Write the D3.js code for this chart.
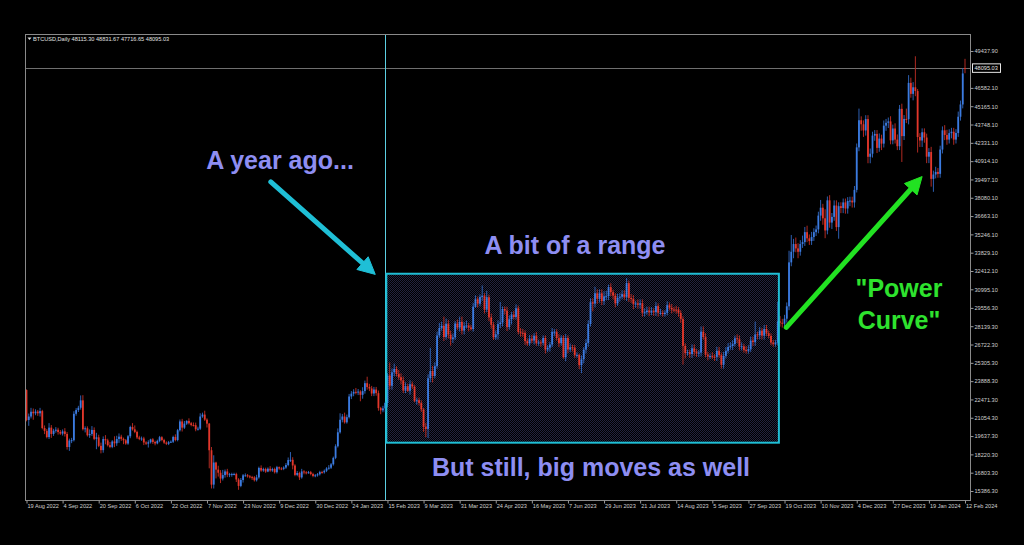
<!DOCTYPE html>
<html><head><meta charset="utf-8">
<script src="https://cdn.jsdelivr.net/npm/d3@7"></script>
<style>html,body{margin:0;padding:0;background:#000;overflow:hidden}svg{display:block}</style>
</head><body>
<svg id="c" width="1024" height="545"></svg>
<script>
// ---------- DATA ----------
const symbolName = "BTCUSD,Daily";
const firstOpen = 23200;
const lastOHLC = [48115.30, 48831.67, 47716.65, 48095.03];
const closes = [
20880,21150,21520,21400,21530,21400,21570,20260,20040,19560,20290,19800,20050,20130,19950,19830,
20000,19800,18790,19290,19320,21360,21650,21830,22400,20170,20240,19700,19800,20110,19420,19540,
18880,18550,19410,19300,18930,18800,19220,19080,19410,19590,19420,19310,19060,19620,20340,20160,
19960,19530,19420,19450,19140,19050,19160,19380,19180,19070,19260,19550,19330,19130,19040,19160,
19200,19570,19330,20090,20770,20290,20600,20810,20630,20490,20480,20160,20210,21150,21300,20910,
20600,18540,15880,17590,17040,16800,16350,16620,16900,16660,16690,16700,16700,16280,15780,16240,
16600,16600,16520,16460,16440,16220,16440,17170,16970,17090,16890,17110,16970,17090,16840,17230,
17130,17100,17200,17400,17780,17800,17360,16630,16780,16440,16900,16830,16820,16840,16700,16550,
16600,16680,16850,16830,16950,17130,17190,17450,17950,18850,19930,20900,21150,20700,21100,22700,
22920,23060,23010,23080,22830,23120,23730,23430,23320,22930,23240,22960,21800,21630,21780,22200,
24330,23530,24570,24840,24450,24190,23940,23170,23490,23140,23650,23470,22360,22410,22200,21700,
20360,20190,24110,24670,24290,25050,27420,28000,28180,27300,28330,27490,27140,27270,28350,28030,
28480,27800,28170,28180,28040,27920,29650,30230,29880,30400,30490,29430,30380,28820,28250,27270,
27510,28300,28420,29470,29340,28070,28680,29030,28850,29530,27700,27630,27620,26990,26800,27170,
27030,27400,26830,26890,26850,27230,26330,26480,26720,27700,27700,27220,26820,27250,25730,27230,
26340,26500,26480,25900,25920,25120,25580,26330,26840,28310,30000,29890,30690,30270,30690,30080,
30450,30470,31160,30770,30510,29900,30350,30420,30620,30390,31470,30330,30250,29860,29910,29800,
29910,29180,29230,29350,29210,29320,29230,29700,29180,29180,29080,29180,29770,29560,29430,29420,
29410,29170,28700,26620,26050,26120,25990,26430,26160,26050,26100,27720,27300,25940,25800,25830,
25790,25750,26240,25900,25160,25840,26230,26530,26610,26760,27210,27130,26570,26580,26300,26220,
26360,27030,26910,27500,27430,27790,27410,27930,27590,27390,26870,26760,26860,28520,28410,28330,
28720,29680,33080,33900,34500,34160,33900,34500,34650,35420,34940,34730,35040,35420,35630,36700,
37310,36490,35550,37880,36160,36600,37480,35810,37430,37290,37720,37250,37830,37860,37720,38690,
41980,44080,43770,43290,44170,41250,41490,42890,43020,41940,42660,42270,43660,43880,43990,42520,
43440,42580,42070,44960,42850,44180,44160,46970,46120,46630,46340,42780,42510,43150,42740,41260,
41620,39540,39880,40080,39930,41810,43300,42940,42580,43080,43190,42580,43090,44350,45300,47700,48095.03
];
const wickUp = [
50,230,300,250,180,130,250,100,200,150,350,200,150,200,150,150,
150,250,150,150,180,200,150,150,380,400,150,150,350,300,200,350,
200,250,200,300,130,250,100,400,250,250,150,100,100,100,100,300,
300,100,130,150,130,100,150,50,100,100,100,100,80,100,100,100,
100,100,200,100,150,200,200,50,200,100,200,200,150,250,150,300,
100,50,250,560,60,300,200,400,150,200,100,100,100,100,100,150,
100,150,100,100,100,100,200,100,200,100,100,100,200,100,100,100,
50,100,100,150,200,600,200,100,150,100,200,100,100,100,100,100,
100,100,100,100,100,100,200,100,100,150,300,500,200,300,200,200,
200,200,300,200,100,300,200,500,250,200,200,200,200,100,200,100,
200,1000,300,400,200,300,300,300,300,200,300,200,100,200,200,200,
100,300,300,1800,400,300,300,400,300,700,400,300,300,300,200,300,
400,400,300,400,200,200,300,300,200,200,800,200,500,200,300,200,
300,300,1600,200,200,300,300,200,300,300,200,300,300,200,200,300,
300,200,300,200,200,200,200,200,200,300,200,200,300,200,200,300,
200,300,200,200,200,100,300,200,300,300,300,300,500,300,300,300,
400,400,200,300,200,200,300,300,300,300,400,200,300,300,200,300,
300,300,300,300,300,300,200,300,200,300,200,200,300,200,300,200,
300,200,200,200,200,200,200,300,300,200,200,400,400,300,200,200,
300,200,300,300,200,300,300,300,300,300,200,300,300,300,200,300,
300,300,300,1000,200,300,200,300,300,200,200,200,200,1500,400,300,
300,300,900,1300,400,500,400,300,500,400,500,300,400,300,300,300,
600,300,700,300,400,300,400,400,300,300,300,300,300,300,300,300,
300,900,300,300,300,300,400,300,300,300,400,300,400,300,300,400,
300,400,400,300,400,300,800,600,400,400,2400,160,300,300,300,300,
300,400,300,400,300,300,300,400,400,300,300,300,300,400,300,400,700
];
const wickDown = [
100,450,150,500,150,200,250,100,250,100,150,300,150,150,200,100,
150,200,200,300,200,100,150,150,150,100,250,100,200,150,100,800,
100,250,200,300,100,100,100,300,200,300,150,300,100,100,150,100,
100,120,100,150,200,100,300,100,150,150,70,100,100,100,100,100,
50,100,100,100,100,300,100,100,100,100,100,150,100,100,100,100,
300,1400,300,300,680,300,350,150,200,200,200,200,100,200,300,100,
200,100,100,100,200,100,100,100,100,100,100,50,100,100,100,100,
100,100,100,100,100,150,300,100,100,200,100,150,150,100,100,100,
100,100,100,100,100,100,100,100,100,100,100,100,200,100,100,100,
200,200,150,200,500,300,200,200,200,200,200,200,200,300,150,300,
300,300,300,300,200,200,300,200,200,100,300,200,100,300,200,200,
400,640,700,300,500,200,200,200,200,300,200,300,500,300,200,200,
300,300,300,200,300,100,200,100,300,200,300,300,200,300,300,200,
200,400,300,300,300,300,200,400,200,200,200,300,300,300,200,200,
200,300,200,200,300,200,300,200,300,200,300,200,300,200,100,300,
300,200,300,200,200,300,600,300,300,300,200,600,300,400,300,300,
300,300,300,300,300,300,200,300,200,200,300,300,300,400,300,300,
300,300,300,200,300,200,300,300,300,200,200,200,200,200,300,200,
300,300,300,1450,400,200,300,300,300,300,300,300,200,200,300,200,
200,300,300,200,300,300,200,200,200,300,200,300,300,300,200,200,
200,200,300,300,300,300,300,300,200,200,200,200,200,200,300,300,
300,300,300,300,500,300,500,300,300,300,300,300,300,300,300,300,
400,500,600,300,400,500,300,300,900,400,400,400,400,400,400,400,
200,300,500,500,400,500,500,300,400,400,300,500,300,400,400,300,
300,300,300,300,2000,300,300,400,300,500,400,1200,500,500,400,500,
500,600,1000,300,300,300,300,400,400,300,400,400,300,300,300,300,400
];
const dateLabels = ["19 Aug 2022","4 Sep 2022","20 Sep 2022","6 Oct 2022","22 Oct 2022","7 Nov 2022","23 Nov 2022","9 Dec 2022","30 Dec 2022","24 Jan 2023","15 Feb 2023","9 Mar 2023","31 Mar 2023","24 Apr 2023","16 May 2023","7 Jun 2023","29 Jun 2023","21 Jul 2023","14 Aug 2023","5 Sep 2023","27 Sep 2023","19 Oct 2023","10 Nov 2023","4 Dec 2023","27 Dec 2023","19 Jan 2024","12 Feb 2024"];
const labelStep = 16;
const priceTicks = [49437.90,46582.10,45165.10,43748.10,42331.10,40914.10,39497.10,38080.10,36663.10,35246.10,33829.10,32412.10,30995.10,29556.30,28139.30,26722.30,25305.30,23888.30,22471.30,21054.30,19637.30,18220.30,16803.30,15386.30];
const markerIndex = 159;              // "a year ago" vertical line (bar index)
const rangeBox = [159.5, 333.5, 32200, 19125];   // bar index from/to, price top/bottom
const cyanArrow = [[108.3, 39300], [154.6, 32150]];
const greenArrow = [[336.8, 28050], [397.0, 39720]];

// ---------- SCALES ----------
const svg = d3.select("#c");
const P = {l:25, r:970, t:34, b:500};
const n = closes.length;
const x = d3.scaleLinear().domain([0, n-1]).range([26.5, 965]);
const y = d3.scaleLinear().domain([15386.3, 49437.9]).range([491, 51]);

svg.append("rect").attr("width",1024).attr("height",545).attr("fill","#000");

const defs = svg.append("defs");
defs.append("clipPath").attr("id","plotclip").append("rect")
  .attr("x",P.l+1).attr("y",P.t+1).attr("width",P.r-P.l-1).attr("height",P.b-P.t-1);
const pat = defs.append("pattern").attr("id","dots").attr("width",2).attr("height",2)
  .attr("patternUnits","userSpaceOnUse");
pat.append("rect").attr("x",0).attr("y",0).attr("width",1).attr("height",1).attr("fill","#23233f");
pat.append("rect").attr("x",1).attr("y",1).attr("width",1).attr("height",1).attr("fill","#23233f");

// ---------- FRAME ----------
const frame = svg.append("g").attr("stroke","#8a8a8a").attr("stroke-width",1).attr("shape-rendering","crispEdges");
frame.append("line").attr("x1",P.l+0.5).attr("x2",P.l+0.5).attr("y1",P.t).attr("y2",P.b+1);
frame.append("line").attr("x1",P.l).attr("x2",P.r).attr("y1",P.t+0.5).attr("y2",P.t+0.5);
frame.append("line").attr("x1",P.r+0.5).attr("x2",P.r+0.5).attr("y1",P.t).attr("y2",P.b+1);
frame.append("line").attr("x1",P.l).attr("x2",P.r+1).attr("y1",P.b+0.5).attr("y2",P.b+0.5);

// range box background (dotted fill) under candles
const bx0=x(rangeBox[0]), bx1=x(rangeBox[1]), by0=y(rangeBox[2]), by1=y(rangeBox[3]);
svg.append("rect").attr("x",Math.round(bx0)).attr("y",Math.round(by0))
  .attr("width",Math.round(bx1-bx0)).attr("height",Math.round(by1-by0))
  .attr("fill","url(#dots)");

const plot = svg.append("g").attr("clip-path","url(#plotclip)");

// current price line
plot.append("line").attr("x1",P.l).attr("x2",P.r)
  .attr("y1",Math.round(y(lastOHLC[3]))+0.5).attr("y2",Math.round(y(lastOHLC[3]))+0.5)
  .attr("stroke","#6f6f6f").attr("stroke-width",1).attr("shape-rendering","crispEdges");

// marker line
plot.append("line").attr("x1",Math.round(x(markerIndex))+0.5).attr("x2",Math.round(x(markerIndex))+0.5)
  .attr("y1",P.t).attr("y2",P.b).attr("stroke","#5ccfe2").attr("stroke-width",1)
  .attr("shape-rendering","crispEdges");

// ---------- CANDLES ----------
const bars = closes.map((c,i)=>{
  let o = i===0 ? firstOpen : closes[i-1];
  let h = Math.max(o,c)+wickUp[i], l = Math.min(o,c)-wickDown[i];
  if (i===n-1){ o=lastOHLC[0]; h=lastOHLC[1]; l=lastOHLC[2]; c=lastOHLC[3]; }
  return {i,o,h,l,c,up:c>=o};
});
const UP="#3b7be0", DN="#e2372b";
const cg = plot.append("g");
cg.selectAll("line.w").data(bars).join("line").attr("class","w")
  .attr("x1",d=>x(d.i)).attr("x2",d=>x(d.i))
  .attr("y1",d=>y(d.h)).attr("y2",d=>y(d.l))
  .attr("stroke",d=>d.up?"#2d5fb0":"#b02a22").attr("stroke-width",1);
cg.selectAll("rect.b").data(bars).join("rect").attr("class","b")
  .attr("x",d=>x(d.i)-0.9).attr("width",1.8)
  .attr("y",d=>y(Math.max(d.o,d.c)))
  .attr("height",d=>Math.max(1,Math.abs(y(d.o)-y(d.c))))
  .attr("fill",d=>d.up?UP:DN);

// range box border
svg.append("rect").attr("x",bx0).attr("y",by0).attr("width",bx1-bx0).attr("height",by1-by0)
  .attr("fill","none").attr("stroke","#1fbfd6").attr("stroke-width",2);

// ---------- ARROWS ----------
function arrow(a,b,color,w,hl,hw){
  const p0=[x(a[0]),y(a[1])], p1=[x(b[0]),y(b[1])];
  const dx=p1[0]-p0[0], dy=p1[1]-p0[1], L=Math.hypot(dx,dy), ux=dx/L, uy=dy/L;
  const bxp=p1[0]-ux*hl, byp=p1[1]-uy*hl;
  svg.append("line").attr("x1",p0[0]).attr("y1",p0[1]).attr("x2",bxp+ux*2).attr("y2",byp+uy*2)
    .attr("stroke",color).attr("stroke-width",w).attr("stroke-linecap","round");
  svg.append("polygon").attr("points",[p1,[bxp-uy*hw,byp+ux*hw],[bxp+uy*hw,byp-ux*hw]].map(p=>p.join(",")).join(" "))
    .attr("fill",color).attr("stroke",color).attr("stroke-width",1).attr("stroke-linejoin","round");
}
arrow(cyanArrow[0],cyanArrow[1],"#1fbfd6",5,17,8.5);
arrow(greenArrow[0],greenArrow[1],"#22e222",5,17,8.5);

// ---------- ANNOTATION TEXT ----------
const ann = svg.append("g").attr("font-family","'Liberation Sans', Arial, sans-serif")
  .attr("font-weight","bold").attr("font-size",25).attr("text-anchor","middle");
ann.append("text").attr("x",280).attr("y",169).attr("fill","#8e8ef2").text("A year ago...");
ann.append("text").attr("x",575).attr("y",254).attr("fill","#8e8ef2").text("A bit of a range");
ann.append("text").attr("x",591).attr("y",476).attr("fill","#8e8ef2").text("But still, big moves as well");
ann.append("text").attr("x",899).attr("y",297).attr("fill","#2ee22e").text("\"Power");
ann.append("text").attr("x",899).attr("y",329).attr("fill","#2ee22e").text("Curve\"");

// ---------- AXES ----------
const axFont = "'Liberation Sans', Arial, sans-serif";
const xAxis = svg.append("g").attr("transform",`translate(0,${P.b+0.5})`)
  .call(d3.axisBottom(x).tickValues(dateLabels.map((d,i)=>i*labelStep))
    .tickFormat((d,i)=>dateLabels[i]).tickSize(3).tickSizeOuter(0));
xAxis.select(".domain").remove();
xAxis.selectAll("line").attr("stroke","#9a9a9a");
xAxis.selectAll("text").attr("text-anchor","start").attr("x",0.5).attr("y",3.5)
  .attr("fill","#d0d0d0").attr("font-size",5.6).attr("font-family",axFont);

const yAxis = svg.append("g").attr("transform",`translate(${P.r+0.5},0)`)
  .call(d3.axisRight(y).tickValues(priceTicks).tickFormat(d=>d.toFixed(2)).tickSize(3).tickSizeOuter(0));
yAxis.select(".domain").remove();
yAxis.selectAll("line").attr("stroke","#9a9a9a");
yAxis.selectAll("text").attr("x",4).attr("fill","#d0d0d0").attr("font-size",5.6).attr("font-family",axFont);

// current price label
const py = y(lastOHLC[3]);
svg.append("rect").attr("x",972.5).attr("y",py-4.5).attr("width",28).attr("height",8.5)
  .attr("fill","#000").attr("stroke","#e6e6e6").attr("stroke-width",1);
svg.append("text").attr("x",974.5).attr("y",py+2).attr("fill","#e6e6e6")
  .attr("font-size",5.6).attr("font-family",axFont).text(lastOHLC[3].toFixed(2));

// header
const hdr = svg.append("g").attr("font-family",axFont).attr("font-size",5.6).attr("fill","#e0e0e0");
hdr.append("path").attr("d","M27.5,37.5 L31.5,37.5 L29.5,40 Z").attr("fill","#e0e0e0");
hdr.append("text").attr("x",33).attr("y",40.5)
  .text(symbolName + "  " + lastOHLC.map(v=>v.toFixed(2)).join(" "));
</script>
</body></html>
